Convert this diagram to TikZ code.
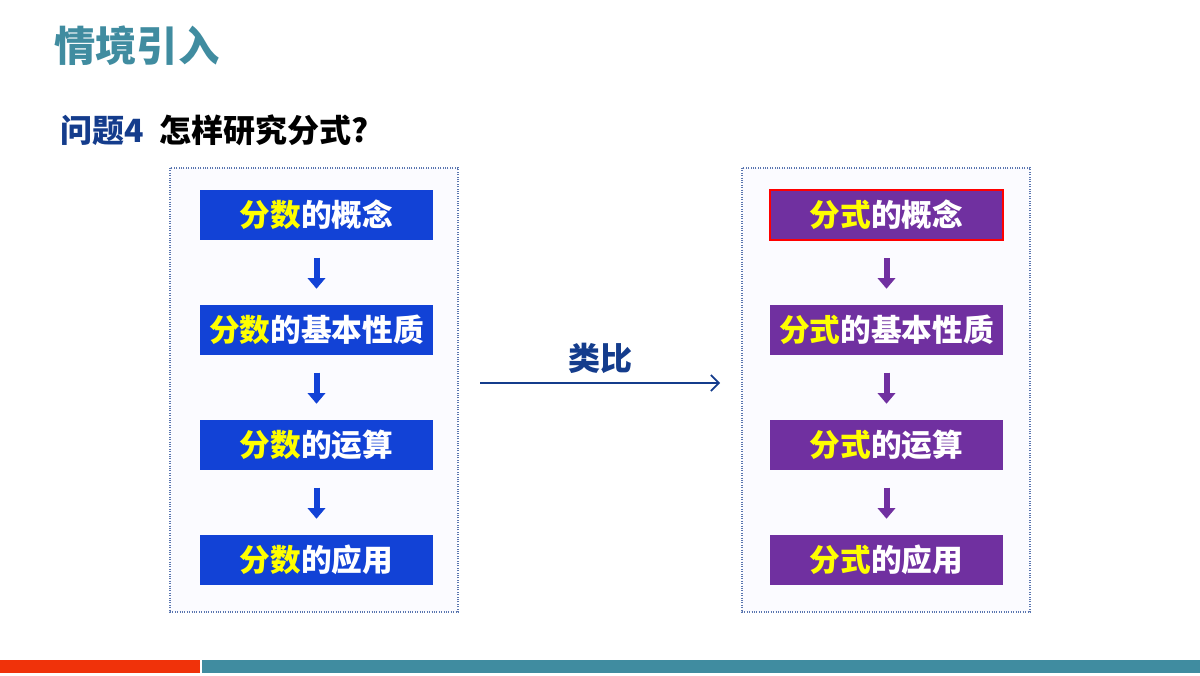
\documentclass[tikz,border=0pt]{standalone}
\usepackage{fontspec}
\setmainfont{Noto Sans CJK SC}
\usetikzlibrary{arrows.meta,positioning}
\definecolor{slideteal}{RGB}{64,140,160}
\definecolor{darkblue}{RGB}{20,60,140}
\definecolor{stageblue}{RGB}{18,66,214}
\definecolor{stagepurple}{RGB}{112,48,160}
\definecolor{ylw}{RGB}{255,255,0}
\definecolor{barred}{RGB}{240,50,10}

\tikzset{
	frame/.style={draw=darkblue!70,densely dotted,fill=blue!1.5,line width=0.8pt},
	stage/.style={minimum width=175pt,minimum height=37.5pt,inner sep=0pt,font=\bfseries\fontsize{23}{23}\selectfont,text=white},
	down/.style={-{Triangle[width=13pt,length=8pt]},line width=4.5pt},
}

\begin{document}
\begin{tikzpicture}[x=0.75pt,y=-0.75pt]
	\useasboundingbox (0,0) rectangle (1200,675);
	% slide title
	\node[anchor=west,inner sep=0pt,text=slideteal,font=\bfseries\fontsize{31}{31}\selectfont] (title) at (54,46) {情境引入};
	\node[anchor=west,inner sep=0pt,font=\bfseries\fontsize{24}{24}\selectfont] (question) at (60,130) {\textcolor{darkblue}{问题4}\hspace{0.5em}怎样研究分式?};
	% frames
	\draw[frame] (170,168) rectangle (458,612);
	\draw[frame] (742,168) rectangle (1030,612);
	% left column
	\node[stage,fill=stageblue] (f1) at (316.5,215) {\textcolor{ylw}{分数}的概念};
	\node[stage,fill=stageblue] (f2) at (316.5,330) {\textcolor{ylw}{分数}的基本性质};
	\node[stage,fill=stageblue] (f3) at (316.5,445) {\textcolor{ylw}{分数}的运算};
	\node[stage,fill=stageblue] (f4) at (316.5,560) {\textcolor{ylw}{分数}的应用};
	% right column
	\node[stage,fill=stagepurple,draw=red,line width=1.5pt] (g1) at (886.5,215) {\textcolor{ylw}{分式}的概念};
	\node[stage,fill=stagepurple] (g2) at (886.5,330) {\textcolor{ylw}{分式}的基本性质};
	\node[stage,fill=stagepurple] (g3) at (886.5,445) {\textcolor{ylw}{分式}的运算};
	\node[stage,fill=stagepurple] (g4) at (886.5,560) {\textcolor{ylw}{分式}的应用};
	\foreach \a/\b in {f1/f2,f2/f3,f3/f4}
		\draw[down,stageblue] ([yshift=-13pt]\a.south) -- ([yshift=12pt]\b.north);
	\foreach \a/\b in {g1/g2,g2/g3,g3/g4}
		\draw[down,stagepurple] ([yshift=-13pt]\a.south) -- ([yshift=12pt]\b.north);
	% analogy arrow
	\coordinate (from) at (480,383);
	\coordinate (to) at (720,383);
	\draw[-{Straight Barb[length=6pt]},darkblue,line width=1.2pt] (from) -- node[above=3pt,font=\bfseries\fontsize{24}{24}\selectfont] (analogy) {类比} (to);
	% bottom bar
	\fill[barred] (0,660) rectangle (200,673);
	\fill[slideteal] (202,660) rectangle (1200,673);
\end{tikzpicture}
\end{document}
